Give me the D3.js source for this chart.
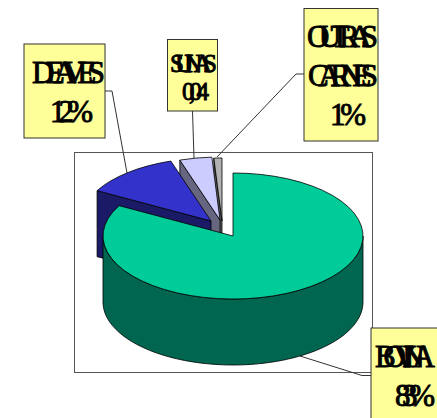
<!DOCTYPE html>
<html>
<head>
<meta charset="utf-8">
<script src="https://cdn.jsdelivr.net/npm/d3@7"></script>
<style>
html,body{margin:0;padding:0;background:#fff;overflow:hidden}
svg{display:block}
text{font-family:"Liberation Serif",serif;fill:#000;stroke:#000;stroke-width:0.9}
</style>
</head>
<body>
<svg id="chart" width="437" height="418"></svg>
<script>
const categories = ["BOVINA", "DE AVES", "SUINAS", "OUTRAS CARNES"];
const values = [83, 12, 4, 1];
const valueLabels = ["83%", "12%", "0,04", "1%"];

const topColors = ["#00cc99", "#3333cc", "#ccccff", "#b2b2b2"];
const wallColors = ["#006650", "#1a1a66", "#666680", "#5c5c5c"];

const svg = d3.select("#chart");
const cx = 233, cy = 236, rx = 130, ry = 63, depth = 66;
const explode = [[0, 0], [-22, -15], [-13, -16], [-11, -15]];

svg.append("rect").attr("x", 74.5).attr("y", 152.5).attr("width", 298).attr("height", 220)
  .attr("fill", "#fff").attr("stroke", "#555").attr("stroke-width", 1);

const leaders = [
  [[371, 375.5], [362, 375.5], [300, 356]],
  [[105, 91], [112, 91], [127, 173]],
  [[192.5, 111], [194, 158]],
  [[304, 74], [296, 74], [217, 157]]
];
const lineGen = d3.line();
leaders.forEach(l => svg.append("path").attr("d", lineGen(l)).attr("fill", "none")
  .attr("stroke", "#333").attr("stroke-width", 1));

const arcs = d3.pie().sort(null).value(d => d)(values);
const arcGen = d3.arc().innerRadius(0).outerRadius(rx);
const pt = (i, a) => [cx + explode[i][0] + rx * Math.sin(a), cy + explode[i][1] - ry * Math.cos(a)];

// draw back slices first, main slice last
[3, 2, 1, 0].forEach(i => {
  const a = arcs[i];
  const g = svg.append("g");
  if (i > 0) {
    const apex = [cx + explode[i][0], cy + explode[i][1]];
    const rim = pt(i, a.startAngle);
    g.append("path")
      .attr("d", lineGen([apex, rim, [rim[0], rim[1] + depth], [apex[0], apex[1] + depth]]) + "Z")
      .attr("fill", wallColors[i]).attr("stroke", "#000").attr("stroke-width", 0.8);
  } else {
    const angles = d3.range(Math.PI / 2, 3 * Math.PI / 2 + 0.001, Math.PI / 90);
    const area = d3.area()
      .x(t => cx + rx * Math.sin(t))
      .y0(t => cy - ry * Math.cos(t))
      .y1(t => cy - ry * Math.cos(t) + depth);
    g.append("path").attr("d", area(angles))
      .attr("fill", wallColors[0]).attr("stroke", "#000").attr("stroke-width", 0.8);
  }
  g.append("path")
    .attr("d", arcGen(a))
    .attr("transform", `translate(${cx + explode[i][0]},${cy + explode[i][1]}) scale(1,${ry / rx})`)
    .attr("fill", topColors[i]).attr("stroke", "#000").attr("stroke-width", 0.8)
    .attr("vector-effect", "non-scaling-stroke");
});

const boxes = [
  {x: 371, y: 328, w: 80, h: 100, size: 31,
   lines: [[categories[0], 375, 367, 60], [valueLabels[0], 395, 406, 40]]},
  {x: 24, y: 44, w: 81, h: 94, size: 31,
   lines: [[categories[1], 32, 83, 73], [valueLabels[1], 50, 122, 43]]},
  {x: 167.5, y: 39.5, w: 50, h: 71.5, size: 25,
   lines: [[categories[2], 170, 72, 47], [valueLabels[2], 182, 100, 27]]},
  {x: 304, y: 8.5, w: 74, h: 132.5, size: 31,
   lines: [["OUTRAS", 307, 47, 71], ["CARNES", 308, 86, 70], [valueLabels[3], 330, 125, 36]]}
];
boxes.forEach(b => {
  const g = svg.append("g");
  g.append("rect").attr("x", b.x).attr("y", b.y).attr("width", b.w).attr("height", b.h)
    .attr("fill", "#ffff99").attr("stroke", "#333").attr("stroke-width", 1);
  b.lines.forEach(([t, x, y, len]) => g.append("text")
    .attr("x", x).attr("y", y).attr("font-size", b.size)
    .attr("textLength", len).attr("lengthAdjust", "spacing").text(t));
});
</script>
</body>
</html>
